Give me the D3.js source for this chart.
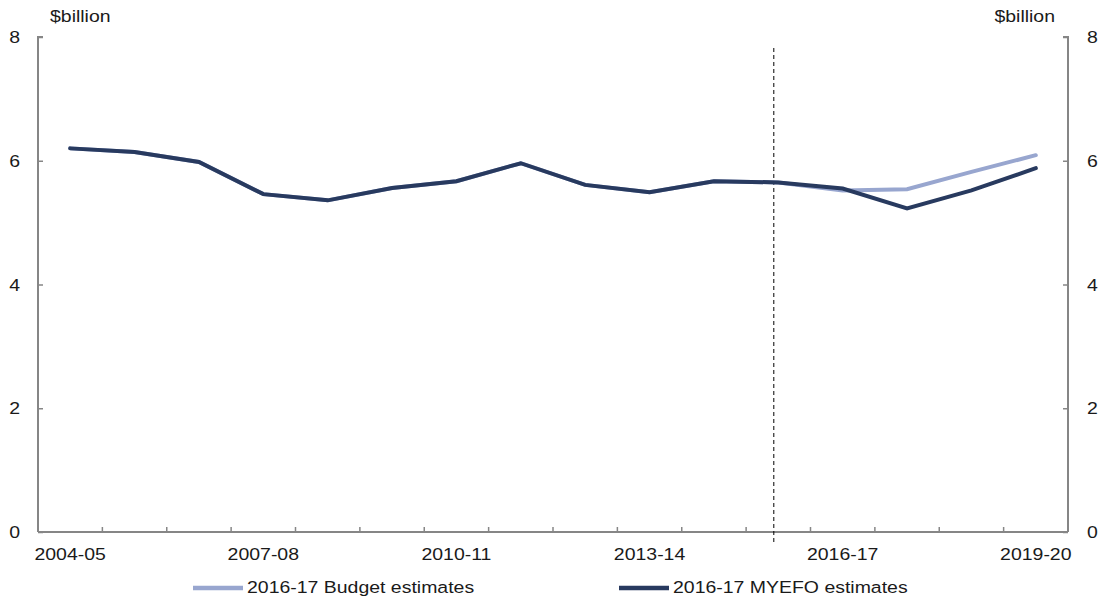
<!DOCTYPE html>
<html><head><meta charset="utf-8">
<script src="https://cdn.jsdelivr.net/npm/d3@7"></script>
<style>body{margin:0;background:#fff}svg{display:block;font-family:"Liberation Sans",Arial,sans-serif}</style>
</head><body><svg id="c" width="1104" height="601"></svg>
<script>
const categories = ["2004-05","2005-06","2006-07","2007-08","2008-09","2009-10","2010-11","2011-12","2012-13","2013-14","2014-15","2015-16","2016-17","2017-18","2018-19","2019-20"];
const budget = [6.20,6.14,5.98,5.46,5.36,5.56,5.67,5.96,5.61,5.49,5.67,5.65,5.52,5.54,5.82,6.09];
const myefo  = [6.20,6.14,5.98,5.46,5.36,5.56,5.67,5.96,5.61,5.49,5.67,5.65,5.55,5.23,5.52,5.88];
const xLabels = ["2004-05","2007-08","2010-11","2013-14","2016-17","2019-20"];
const yTicks = [0,2,4,6,8];
const dividerCategory = "2015-16";
const seriesNames = ["2016-17 Budget estimates","2016-17 MYEFO estimates"];

const svg = d3.select("#c");
const L=38, R=1068, T=37, B=532;
const x = d3.scaleBand().domain(categories).range([L,R]);
const y = d3.scaleLinear().domain([0,8]).range([B,T]);
const axisColor = "#868686";
const fs = 16.5, sx = 1.18, txtColor = "#1a1a1a";

function label(g, px, py, str, anchor){
  return g.append("text").attr("transform",`translate(${px},${py}) scale(${sx},1)`)
    .attr("text-anchor",anchor||"start").attr("font-size",fs).attr("fill",txtColor).text(str);
}

// axes
const gl = svg.append("g").attr("transform",`translate(${L},0)`)
  .call(d3.axisLeft(y).tickValues(yTicks).tickSize(-5).tickFormat(""));
const gr = svg.append("g").attr("transform",`translate(${R},0)`)
  .call(d3.axisRight(y).tickValues(yTicks).tickSize(-5).tickFormat(""));
const gb = svg.append("g").attr("transform",`translate(0,${B})`)
  .call(d3.axisBottom(x).tickValues([]).tickSize(0).tickSizeOuter(0));
[gl,gr,gb].forEach(g=>{
  g.select(".domain").attr("stroke",axisColor).attr("stroke-width",2);
  g.selectAll(".tick line").attr("stroke",axisColor).attr("stroke-width",1.5);
});
gl.select(".domain").attr("d",`M5,${T}H0V${B}`);
gr.select(".domain").attr("d",`M-5,${T}H0V${B}`);
gb.select(".domain").attr("d",`M${L},0H${R}`);

// y tick labels
yTicks.forEach(v=>{
  label(svg, L-18, y(v)+6, d3.format("d")(v), "end");
  label(svg, R+19, y(v)+6, d3.format("d")(v), "start");
});

// bottom ticks at band boundaries
const bounds = categories.map(c=>x(c)).slice(1);
svg.append("g").selectAll("line").data(bounds).join("line")
  .attr("x1",d=>d).attr("x2",d=>d).attr("y1",B).attr("y2",B-5)
  .attr("stroke",axisColor).attr("stroke-width",1.5);
xLabels.forEach(d=> label(svg, x(d)+x.bandwidth()/2, B+28, d, "middle"));

// unit labels
label(svg, 50, 22, "$billion", "start");
label(svg, 1055, 22, "$billion", "end");

// divider
const dx = x(dividerCategory)+x.bandwidth()*0.43;
svg.append("line").attr("x1",dx).attr("x2",dx).attr("y1",48).attr("y2",B+10)
  .attr("stroke","#000").attr("stroke-width",1).attr("stroke-dasharray","4,3");

const line = d3.line().x((d,i)=>x(categories[i])+x.bandwidth()/2).y(d=>y(d));
const colors = ["#98a6cf","#283a5f"];
svg.append("path").datum(budget).attr("d",line).attr("fill","none")
  .attr("stroke",colors[0]).attr("stroke-width",4).attr("stroke-linecap","round");
svg.append("path").datum(myefo).attr("d",line).attr("fill","none")
  .attr("stroke",colors[1]).attr("stroke-width",4).attr("stroke-linecap","round");

// legend
const legX = [193,619];
seriesNames.forEach((n,i)=>{
  svg.append("line").attr("x1",legX[i]).attr("x2",legX[i]+50).attr("y1",588).attr("y2",588)
    .attr("stroke",colors[i]).attr("stroke-width",4.5);
  label(svg, legX[i]+54, 593, n, "start");
});
</script></body></html>
